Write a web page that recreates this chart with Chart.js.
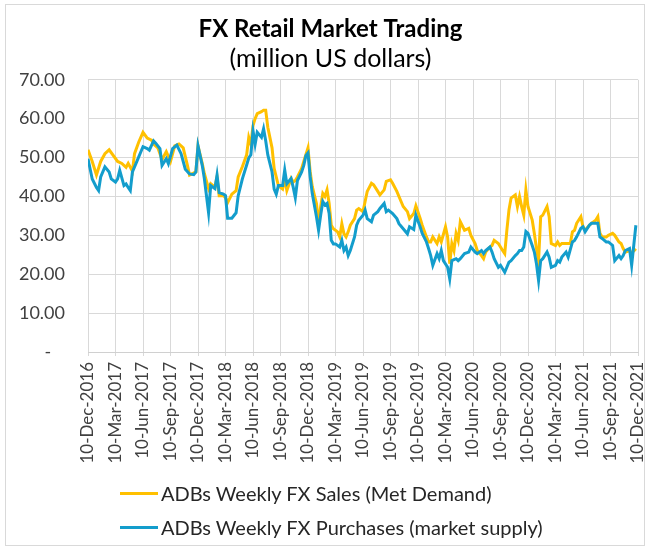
<!DOCTYPE html>
<html>
<head>
<meta charset="utf-8">
<script src="https://cdn.jsdelivr.net/npm/chart.js@4.4.1/dist/chart.umd.min.js"></script>
<style>
    body { margin: 0; background: #fff; }
    #wrap { position: relative; width: 651px; height: 550px; }
    #moldura { position: absolute; left: 5px; top: 4px; width: 640px; height: 542px; border: 1px solid #d9d9d9; box-sizing: border-box; }
    #chart-fx { position: absolute; left: 0; top: 0; }
    #legenda { position: absolute; left: 120px; top: 476px; font-family: Lato, sans-serif; font-size: 20px; color: #262626; }
    .item { display: flex; align-items: center; height: 34px; white-space: nowrap; }
    .linha { display: inline-block; width: 38px; height: 3px; margin-right: 3px; }
</style>
</head>
<body>
<div id="wrap">
    <div id="moldura"></div>
    <canvas id="chart-fx" width="651" height="550"></canvas>
    <div id="legenda"></div>
</div>
<script>
// rótulos do eixo x (a cada 13 semanas)
const tickLabels = ['10-Dec-2016', '10-Mar-2017', '10-Jun-2017', '10-Sep-2017', '10-Dec-2017',
    '10-Mar-2018', '10-Jun-2018', '10-Sep-2018', '10-Dec-2018', '10-Mar-2019', '10-Jun-2019',
    '10-Sep-2019', '10-Dec-2019', '10-Mar-2020', '10-Jun-2020', '10-Sep-2020', '10-Dec-2020',
    '10-Mar-2021', '10-Jun-2021', '10-Sep-2021', '10-Dec-2021'];

const seriesNames = ['ADBs Weekly FX Sales (Met Demand)', 'ADBs Weekly FX Purchases (market supply)'];

// vendas (semana desde 10-Dec-2016, valor)
const salesWeeks = [0,2,4,6,8,10,12,14,16,18,19,21,22,24,26,28,30,31,33,35,37,39,41,43,45,47,48,51,52,54,55,57,58,60,61,62,64,65,66,68,70,71,73,75,76,77,78,79,80,82,83,84,85,87,88,89,90,92,93,94,96,97,98,99,101,102,104,105,106,108,109,110,111,112,113,114,115,116,118,119,120,121,122,123,124,126,127,128,130,131,132,134,135,137,138,140,141,143,144,146,148,149,151,152,154,155,157,158,160,161,162,163,165,166,167,169,170,171,172,173,174,175,176,178,180,181,183,184,186,187,188,190,191,192,194,196,197,198,199,200,202,203,204,205,206,207,208,210,211,212,213,214,215,217,218,219,221,222,223,224,226,228,229,230,231,233,234,235,237,238,240,241,242,243,245,246,248,249,251,252,253,254,256,257,258,259];
const salesValues = [52,49,45.5,49,51,52,50.5,49,48.5,47.5,48.5,46.5,51,54,56.5,55,54.5,53.5,52.5,49.5,51.5,49,53,53.5,52.5,48,45.5,46.3,53,48.5,45.9,42,43.3,42.4,45,40.2,40.2,39.7,38.4,40.6,41.5,45,47.7,50.7,55.2,53.4,58.2,60,61.3,61.8,62.2,62.2,57.8,52.5,47.2,45,42.8,41.9,44.6,41.5,44.6,43.7,44.1,45,47.2,49,52.5,46.5,42.6,38.2,33,37.4,40.8,40,41.7,38.2,32.6,31.7,30.9,29.6,33,30.4,29.6,30.9,32.6,34.3,36.5,36.9,36.1,38.7,41.3,43.4,43,41.3,40.4,41.7,43.9,44.3,43.4,41.3,38.7,37.4,36.1,34.3,35.6,37.6,34.4,32.6,29.6,28.3,28.3,29.6,27.9,29.6,28.3,32.2,29.6,22.7,27.9,26.1,30.5,28.7,33.5,31.3,31.8,30,27.9,26.1,24.8,24,25.7,27,27.4,28.7,27.9,26.1,25.3,31.3,36.5,39.6,40.4,37.4,40,37.4,35.2,41.7,37.4,33.9,30.5,26.6,23.5,34.8,35.2,37.4,34.8,27.9,27.4,28.3,27.4,27.9,27.9,27.9,30.9,31.3,33.1,34.8,32.2,31.3,32.6,33.1,33.9,34.8,30.5,29.6,29.6,30,30.5,30,28.3,27.9,26.6,25.7,26.1,24.8,26.5,26];

// compras (semana desde 10-Dec-2016, valor)
const supplyWeeks = [0,2,4,5,6,8,10,11,13,14,15,17,18,19,20,21,23,25,26,28,29,31,32,34,35,37,38,40,42,44,46,48,50,51,52,54,55,57,58,60,61,62,64,65,66,68,70,71,73,75,76,77,78,79,80,82,83,84,85,87,88,89,90,92,93,94,96,97,98,99,101,102,103,104,105,106,108,109,110,111,112,113,114,115,116,117,119,120,121,122,123,124,126,127,128,130,131,132,134,135,137,138,140,141,142,144,146,147,149,151,152,154,155,157,158,160,161,162,163,165,166,167,168,170,171,172,174,175,176,178,180,181,183,184,186,187,188,190,191,192,194,195,197,198,199,200,202,203,204,205,206,207,208,210,211,212,213,214,215,217,218,219,221,222,223,224,226,227,229,230,231,233,234,235,237,238,240,241,242,243,245,246,248,249,251,252,253,254,256,257,259];
const supplyValues = [49.7,44.5,42.3,41.5,45,47.6,46.3,44.5,43.7,44.5,46.7,42.8,43.2,42.3,41.5,46.3,48.9,51.5,52.8,52.3,51.9,54.3,53.7,52.3,48,49.7,48.4,52.3,53.2,51,47,45.8,45.6,46.3,53,48,44.6,35.8,42.8,42,45.5,41,40.6,40.2,34.4,34.4,35.8,40.2,44.6,48.1,49.9,50.7,56.9,53.4,56.5,55.2,57.4,54.3,50.7,46.3,41.9,40.6,42.8,42.8,46.8,43.3,44.6,42.4,39.7,44.1,46.3,48,50.5,51.2,45.2,40.8,34.8,31.3,35.2,38.7,37.8,38.2,35.6,28.7,27.8,27.8,27,28.7,26.1,27,24.8,26.1,29.6,32.6,33.9,35.2,36.5,34.3,33.5,35.2,36.1,36.9,38.2,36.1,36.5,35.6,34.3,33,31.7,30.4,32.2,31.5,35.2,32.2,30.5,28.3,26.6,24.8,22.3,25.3,24,26.1,23.5,21.8,18.8,23.5,24,23.5,24,25.3,25.7,27,25.7,25.3,26.1,25.3,26.1,27,25.7,24,21.8,22.3,20.5,21.8,23.1,23.5,24.8,25.3,26.1,26.1,27,31,30.5,27.4,25.7,22.7,18.4,23.5,24,25.7,24.4,21.8,22.3,23.5,23.1,24.4,25.7,24.4,28.3,28.7,29.6,31.8,32.2,30.9,32.6,33.1,33.1,33.1,29.6,29.2,28.3,28.3,27.4,23.5,24.8,24,24.8,26.1,26.6,22.3,32.6];

const fonte = 'Lato, sans-serif';

function juntarPontos(semanas, valores){
    const pontos = [];
    for(let i = 0; i < semanas.length; ++i){
        pontos.push({x: semanas[i], y: valores[i]});
    };
    return pontos;
}

var chartFx = new Chart(document.getElementById('chart-fx').getContext('2d'), {
    type: 'line',
    data: {
        datasets: [{
            label: seriesNames[0],
            data: juntarPontos(salesWeeks, salesValues),
            borderColor: '#FFC000',
            backgroundColor: '#FFC000',
            borderWidth: 3,
            order: 1
        }, {
            label: seriesNames[1],
            data: juntarPontos(supplyWeeks, supplyValues),
            borderColor: '#139DCC',
            backgroundColor: '#139DCC',
            borderWidth: 3,
            order: 0
        }]
    },
    options: {
        responsive: false,
        animation: false,
        layout: {padding: {left: 10, right: 0, top: 0, bottom: 68}},
        elements: {point: {radius: 0}, line: {tension: 0}},
        scales: {
            x: {
                type: 'linear',
                min: 0,
                max: 260,
                afterBuildTicks: function(scale){
                    scale.ticks = tickLabels.map(function(t, i){ return {value: i * 13}; });
                },
                afterFit: function(scale){
                    scale.height = 130;
                    scale.paddingRight = 13;
                },
                ticks: {
                    autoSkip: false,
                    maxRotation: 90,
                    minRotation: 90,
                    padding: 6,
                    color: '#404040',
                    font: {family: fonte, size: 17},
                    callback: function(valor){ return tickLabels[Math.round(valor / 13)]; }
                },
                grid: {color: '#d9d9d9', tickLength: 4},
                border: {color: '#d0d0d0'}
            },
            y: {
                min: 0,
                max: 70,
                afterFit: function(scale){ scale.width = 78; },
                ticks: {
                    stepSize: 10,
                    padding: 23,
                    color: '#404040',
                    font: {family: fonte, size: 18},
                    callback: function(valor){ return valor === 0 ? '-   ' : valor.toFixed(2); }
                },
                grid: {color: '#d9d9d9', drawTicks: false},
                border: {display: false}
            }
        },
        plugins: {
            legend: {display: false},
            tooltip: {enabled: false},
            title: {
                display: true,
                text: 'FX Retail Market Trading',
                font: {family: fonte, size: 24, weight: 'bold'},
                padding: {top: 15, bottom: 0},
                color: '#000'
            },
            subtitle: {
                display: true,
                text: '(million US dollars)',
                font: {family: fonte, size: 25},
                padding: {top: 0, bottom: 6},
                color: '#000'
            }
        }
    }
});

// legenda em HTML, montada a partir dos datasets
const legenda = document.getElementById('legenda');
chartFx.data.datasets.forEach(function(ds){
    const item = document.createElement('div');
    item.className = 'item';
    const linha = document.createElement('span');
    linha.className = 'linha';
    linha.style.background = ds.borderColor;
    item.appendChild(linha);
    item.appendChild(document.createTextNode(ds.label));
    legenda.appendChild(item);
});
</script>
</body>
</html>
